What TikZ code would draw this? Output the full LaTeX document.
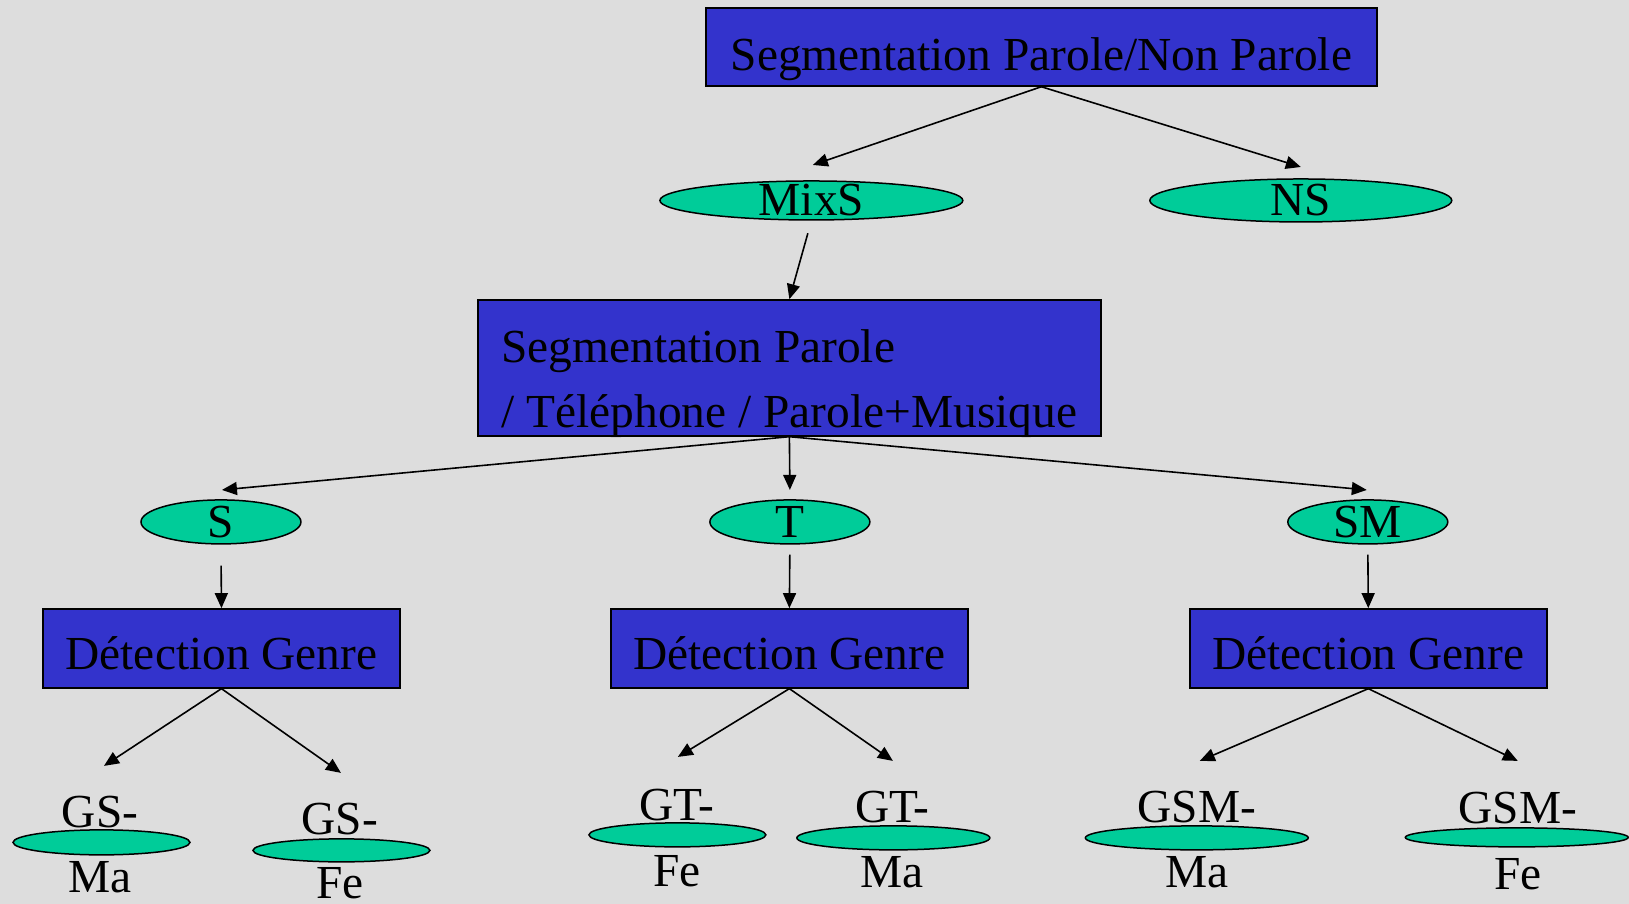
\documentclass[tikz,border=0pt]{standalone}
\usepackage{fontspec}
\setmainfont{Liberation Serif}
\usetikzlibrary{arrows.meta,shapes.geometric}
\definecolor{fondgris}{HTML}{DDDDDD}
\definecolor{bleubox}{HTML}{3333CC}
\definecolor{vertoval}{HTML}{00CC99}
\tikzset{
	blocbox/.style={rectangle, draw=black, line width=0.75pt, fill=bleubox, inner sep=0pt, font=\fontsize{23.7}{32.5}\selectfont},
	oval/.style={ellipse, draw=black, line width=0.75pt, fill=vertoval, inner sep=0pt},
	lbl/.style={inner sep=0pt, font=\fontsize{23.7}{32.5}\selectfont},
	arr/.style={-{Triangle[length=7.5pt,width=6.5pt]}, line width=0.8pt},
}

\begin{document}
\begin{tikzpicture}[x=0.5pt,y=-0.5pt]
				\fill[fondgris] (0,0) rectangle (1629,904);
				% parole / non parole
				\node[blocbox, minimum width=335.5pt, minimum height=39pt, text height=26.1pt, text depth=2.5pt] (segpnp) at (1041.5,47) {Segmentation Parole/Non Parole};
				\node[oval, minimum width=151.5pt, minimum height=19.5pt, label={[lbl]center:MixS}] (mixs) at (811.5,200.5) {};
				\node[oval, minimum width=151pt, minimum height=21.5pt, label={[lbl]center:NS}] (ns) at (1301,200.5) {};
				\coordinate (mixs-in) at (813,165);
				\coordinate (ns-in) at (1301,167);
				\draw[arr] (segpnp.south) -- (mixs-in);
				\draw[arr] (segpnp.south) -- (ns-in);
				% parole / telephone / musique
				\node[blocbox, minimum width=311.5pt, minimum height=68pt, text height=63pt, text depth=3pt] (segtpm) at (789.5,368) {\vbox{\hbox{Segmentation Parole}\hbox{/ Téléphone / Parole+Musique}}};
				\draw[arr, shorten <=6.5pt] (mixs.south) -- (segtpm.north);
				\node[oval, minimum width=80pt, minimum height=22pt, label={[lbl]center:S}] (s) at (221,522) {};
				\node[oval, minimum width=80pt, minimum height=22pt, label={[lbl]center:T}] (t) at (790,522) {};
				\node[oval, minimum width=80pt, minimum height=22pt, label={[lbl]center:SM}] (sm) at (1368,522) {};
				\coordinate (s-in) at (222,490);
				\coordinate (t-in) at (790,490);
				\coordinate (sm-in) at (1367,490);
				\draw[arr] (segtpm.south) -- (s-in);
				\draw[arr] (segtpm.south) -- (t-in);
				\draw[arr] (segtpm.south) -- (sm-in);
				% detection genre
				\node[blocbox, minimum width=178.5pt, minimum height=39.5pt, text height=24pt, text depth=2.5pt] (dgs) at (221.5,648.5) {Détection Genre};
				\node[blocbox, minimum width=178.5pt, minimum height=39.5pt, text height=24pt, text depth=2.5pt] (dgt) at (789.5,648.5) {Détection Genre};
				\node[blocbox, minimum width=178.5pt, minimum height=39.5pt, text height=24pt, text depth=2.5pt] (dgsm) at (1368.5,648.5) {Détection Genre};
				\draw[arr, shorten <=10.5pt] (s.south) -- (dgs.north);
				\draw[arr, shorten <=5pt] (t.south) -- (dgt.north);
				\draw[arr, shorten <=5pt] (sm.south) -- (dgsm.north);
				% feuilles
				\node[oval, minimum width=88.5pt, minimum height=12.5pt] (gsma) at (101.5,842.5) {};
				\node[lbl, anchor=base] (gsma-h) at (100,828) {GS-};
				\node[lbl, anchor=base] (gsma-b) at (100,893) {Ma};
				\node[oval, minimum width=88.5pt, minimum height=11.5pt] (gsfe) at (341.5,850.5) {};
				\node[lbl, anchor=base] (gsfe-h) at (340,835) {GS-};
				\node[lbl, anchor=base] (gsfe-b) at (340,899) {Fe};
				\node[oval, minimum width=88.5pt, minimum height=12pt] (gtfe) at (677.5,835) {};
				\node[lbl, anchor=base] (gtfe-h) at (677,821) {GT-};
				\node[lbl, anchor=base] (gtfe-b) at (677,887) {Fe};
				\node[oval, minimum width=96.5pt, minimum height=12pt] (gtma) at (893.5,838) {};
				\node[lbl, anchor=base] (gtma-h) at (892.5,823) {GT-};
				\node[lbl, anchor=base] (gtma-b) at (892.5,888) {Ma};
				\node[oval, minimum width=111.5pt, minimum height=12pt] (gsmma) at (1197,838) {};
				\node[lbl, anchor=base] (gsmma-h) at (1197,823) {GSM-};
				\node[lbl, anchor=base] (gsmma-b) at (1197,888) {Ma};
				\node[oval, minimum width=111.5pt, minimum height=9.5pt] (gsmfe) at (1517,837.5) {};
				\node[lbl, anchor=base] (gsmfe-h) at (1518,824) {GSM-};
				\node[lbl, anchor=base] (gsmfe-b) at (1518,890) {Fe};
				\coordinate (gsma-in) at (104,766);
				\coordinate (gsfe-in) at (341,773);
				\coordinate (gtfe-in) at (678,757);
				\coordinate (gtma-in) at (893,761);
				\coordinate (gsmma-in) at (1200,761);
				\coordinate (gsmfe-in) at (1518,761);
				\draw[arr] (dgs.south) -- (gsma-in);
				\draw[arr] (dgs.south) -- (gsfe-in);
				\draw[arr] (dgt.south) -- (gtfe-in);
				\draw[arr] (dgt.south) -- (gtma-in);
				\draw[arr] (dgsm.south) -- (gsmma-in);
				\draw[arr] (dgsm.south) -- (gsmfe-in);
			\end{tikzpicture}
\end{document}
